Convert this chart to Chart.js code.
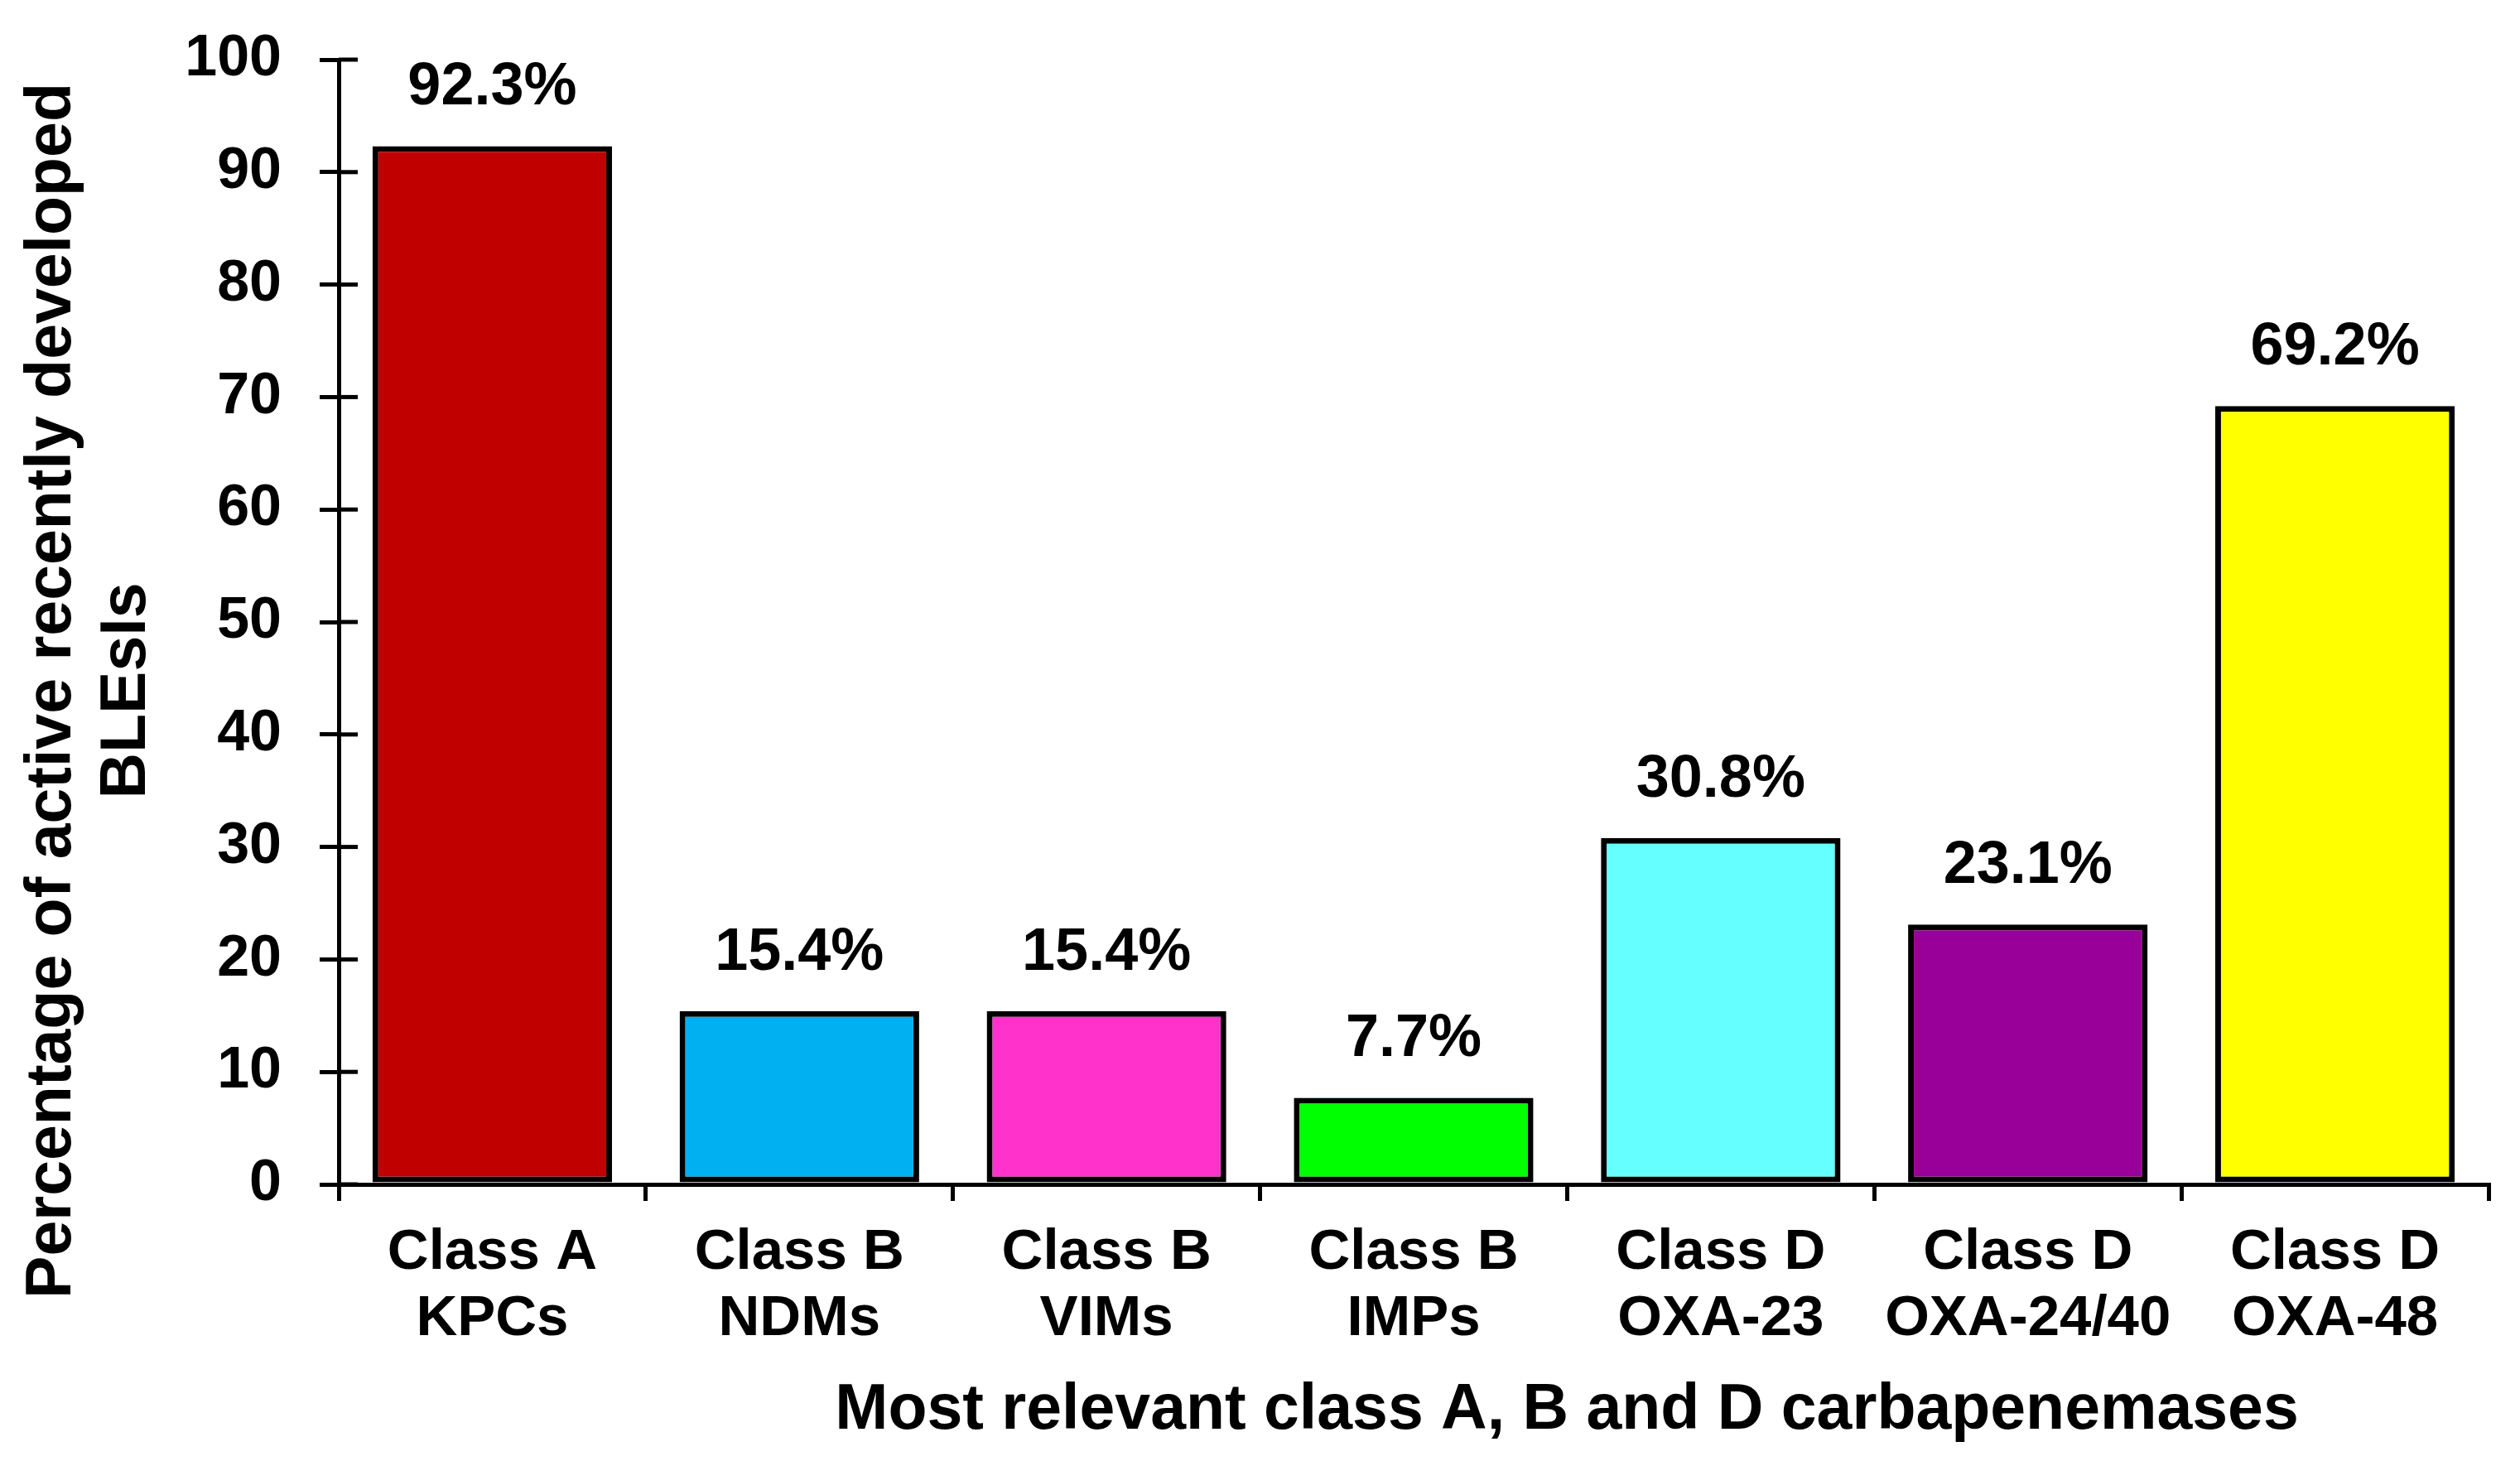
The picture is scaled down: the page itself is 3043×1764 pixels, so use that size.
<!DOCTYPE html>
<html>
<head>
<meta charset="utf-8">
<title>Carbapenemases</title>
<script src="https://cdn.jsdelivr.net/npm/chart.js@4.4.0/dist/chart.umd.min.js"></script>
<style>
    html, body { margin: 0; padding: 0; background: #ffffff; }
    #wrap { width: 3043px; height: 1764px; }
</style>
</head>
<body>
<div id="wrap"><canvas id="barChart" width="3043" height="1764"></canvas></div>
<script>
// Dados do gráfico
const categories = [
    ['Class A', 'KPCs'],
    ['Class B', 'NDMs'],
    ['Class B', 'VIMs'],
    ['Class B', 'IMPs'],
    ['Class D', 'OXA-23'],
    ['Class D', 'OXA-24/40'],
    ['Class D', 'OXA-48']
];
const values = [92.3, 15.4, 15.4, 7.7, 30.8, 23.1, 69.2];
const valueLabels = ['92.3%', '15.4%', '15.4%', '7.7%', '30.8%', '23.1%', '69.2%'];
const barColors = ['#C00000', '#00B0F0', '#FF33CC', '#00FF00', '#66FFFF', '#990099', '#FFFF00'];
const yTicks = [0, 10, 20, 30, 40, 50, 60, 70, 80, 90, 100];
const yTitle = ['Percentage of active recently developed', 'BLEsIs'];
const xTitle = 'Most relevant class A, B and D carbapenemases';

const FONT = "'Liberation Sans', Arial, Helvetica, sans-serif";

// Rótulos de valor acima das barras
const valueLabelPlugin = {
    id: 'valueLabels',
    afterDatasetsDraw(chart) {
        const ctx = chart.ctx;
        const meta = chart.getDatasetMeta(0);
        ctx.save();
        ctx.font = 'bold 72px ' + FONT;
        ctx.fillStyle = '#000';
        ctx.textAlign = 'center';
        ctx.textBaseline = 'middle';
        meta.data.forEach((bar, i) => {
            ctx.fillText(valueLabels[i], bar.x, bar.y - 70);
        });
        ctx.restore();
    }
};

// Marcas do eixo Y cruzando a linha (parte interna) + títulos dos eixos
const axisExtrasPlugin = {
    id: 'axisExtras',
    afterDraw(chart) {
        const ctx = chart.ctx;
        const yScale = chart.scales.y;
        const area = chart.chartArea;
        ctx.save();
        ctx.strokeStyle = '#000';
        ctx.lineWidth = 5;
        yScale.ticks.forEach(t => {
            const py = yScale.getPixelForValue(t.value);
            ctx.beginPath();
            ctx.moveTo(area.left, py);
            ctx.lineTo(area.left + 23, py);
            ctx.stroke();
        });

        // Título do eixo Y (duas linhas, rotacionado)
        ctx.fillStyle = '#000';
        ctx.font = 'bold 77px ' + FONT;
        ctx.textAlign = 'center';
        ctx.textBaseline = 'middle';
        ctx.save();
        ctx.translate(64, 834);
        ctx.rotate(-Math.PI / 2);
        ctx.fillText(yTitle[0], 0, 0);
        ctx.fillText(yTitle[1], 0, 90);
        ctx.restore();

        // Título do eixo X
        ctx.fillText(xTitle, 1892, 1704);
        ctx.restore();
    }
};

const barChart = new Chart(document.getElementById('barChart'), {
    type: 'bar',
    data: {
        labels: categories,
        datasets: [{
            data: values,
            backgroundColor: barColors,
            borderColor: '#000000',
            borderWidth: 7,
            borderSkipped: false,
            barPercentage: 0.78,
            categoryPercentage: 1.0
        }]
    },
    options: {
        responsive: false,
        animation: false,
        devicePixelRatio: 1,
        layout: {
            padding: { top: 72, right: 38, left: 0, bottom: 0 }
        },
        plugins: {
            legend: { display: false },
            tooltip: { enabled: false }
        },
        scales: {
            x: {
                afterFit(scale) { scale.height = 334; },
                grid: {
                    display: true,
                    drawOnChartArea: false,
                    offset: true,
                    color: '#000',
                    lineWidth: 5,
                    tickLength: 20
                },
                border: { display: true, color: '#000', width: 5 },
                ticks: {
                    color: '#000',
                    padding: 23,
                    maxRotation: 0,
                    autoSkip: false,
                    font: { family: FONT, size: 69, weight: 'bold', lineHeight: 1.16 }
                }
            },
            y: {
                min: 0,
                max: 100,
                afterFit(scale) {
                    scale.width = 409;
                    // sem folga extra em cima/baixo: a área do gráfico fica no padding do layout
                    scale.paddingTop = 0;
                    scale.paddingBottom = 0;
                },
                afterBuildTicks(scale) {
                    scale.ticks = yTicks.map(v => ({ value: v }));
                },
                grid: {
                    display: true,
                    drawOnChartArea: false,
                    color: '#000',
                    lineWidth: 5,
                    tickLength: 23
                },
                border: { display: true, color: '#000', width: 5 },
                ticks: {
                    color: '#000',
                    padding: 46,
                    font: { family: FONT, size: 70, weight: 'bold' }
                }
            }
        }
    },
    plugins: [valueLabelPlugin, axisExtrasPlugin]
});
</script>
</body>
</html>
